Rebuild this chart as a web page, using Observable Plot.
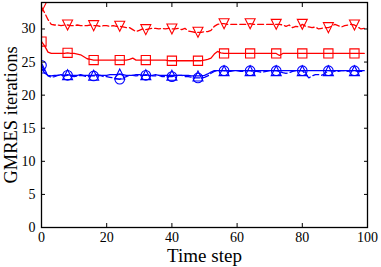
<!DOCTYPE html>
<html><head><meta charset="utf-8">
<script src="https://cdn.jsdelivr.net/npm/d3@7"></script>
<script src="https://cdn.jsdelivr.net/npm/@observablehq/plot@0.6"></script>
<style>html,body{margin:0;padding:0;background:#fff;} svg{display:block}</style>
</head><body><div id="chart"></div>
<script>
// ---- data ----
const timeSteps = d3.range(0, 100);
const redTriangle = [
  33.3, 32.4, 31.4, 30.7, 30.6, 30.6, 30.5, 30.6, 30.6, 30.5,
  30.5, 30.6, 30.5, 30.5, 30.5, 30.6, 30.5, 30.5, 30.4, 30.5,
  30.5, 30.4, 30.5, 30.4, 30.4, 30.3, 30.2, 30.2, 29.9, 29.6,
  29.8, 30.0, 29.9, 30.0, 30.1, 30.1, 30.0, 30.1, 30.0, 30.1,
  30.0, 30.0, 30.1, 29.9, 30.1, 29.7, 29.6, 29.5, 29.5, 29.5,
  29.6, 29.6, 29.8, 30.4, 30.7, 30.8, 30.8, 30.7, 30.7, 30.7,
  30.7, 30.7, 30.7, 30.7, 30.8, 30.7, 30.7, 30.7, 30.7, 30.7,
  30.7, 30.7, 30.7, 30.7, 30.6, 30.4, 30.6, 30.2, 30.4, 30.3,
  30.7, 30.4, 30.3, 30.2, 30.3, 30.0, 30.1, 30.2, 30.2, 30.4,
  30.7, 30.5, 30.3, 30.5, 30.6, 30.7, 30.6, 30.3, 30.0, 30.1
];
const redSquare = [
  28.1, 27.4, 26.5, 26.3, 26.3, 26.3, 26.3, 26.3, 26.4, 26.3,
  26.3, 26.2, 26.1, 25.8, 25.5, 25.4, 25.3, 25.3, 25.3, 25.3,
  25.3, 25.3, 25.3, 25.3, 25.3, 25.3, 25.3, 25.4, 25.6, 25.3,
  25.3, 25.3, 25.3, 25.3, 25.3, 25.3, 25.3, 25.3, 25.3, 25.2,
  25.2, 25.2, 25.2, 25.2, 25.2, 25.2, 25.2, 25.2, 25.2, 25.2,
  25.3, 25.4, 25.6, 26.2, 26.6, 26.4, 26.3, 26.3, 26.3, 26.3,
  26.3, 26.3, 26.3, 26.3, 26.3, 26.3, 26.3, 26.3, 26.3, 26.3,
  26.3, 26.3, 26.3, 26.0, 26.3, 26.3, 26.3, 26.3, 26.3, 26.3,
  26.3, 26.3, 26.3, 26.3, 26.3, 26.3, 26.3, 26.3, 26.3, 26.3,
  26.3, 26.3, 26.3, 26.3, 26.3, 26.3, 26.3, 26.3, 26.3, 26.3
];
const blueCircle = [
  24.5, 23.6, 22.9, 22.7, 22.8, 23.0, 23.0, 22.9, 23.0, 22.9,
  22.8, 22.9, 23.0, 22.9, 22.8, 22.9, 22.9, 22.9, 23.0, 22.8,
  22.8, 22.7, 22.6, 22.5, 22.4, 22.6, 22.8, 23.0, 23.0, 22.9,
  23.0, 23.0, 23.0, 23.0, 22.9, 22.9, 23.0, 22.8, 22.8, 22.8,
  22.8, 22.9, 23.0, 23.0, 22.8, 22.8, 22.7, 22.6, 22.6, 22.6,
  22.7, 22.9, 23.3, 23.6, 23.7, 23.7, 23.7, 23.6, 23.6, 23.7,
  23.7, 23.6, 23.6, 23.7, 23.7, 23.6, 23.6, 23.5, 23.5, 23.6,
  23.7, 23.7, 23.7, 23.6, 23.4, 23.3, 23.4, 23.6, 23.7, 23.7,
  23.7, 23.2, 22.6, 22.9, 23.1, 23.1, 23.0, 23.3, 23.7, 23.7,
  23.6, 23.6, 23.7, 23.7, 23.6, 23.7, 23.7, 23.6, 23.6, 23.6
];
const blueTriangle = [
  24.1, 23.3, 23.0, 22.9, 23.0, 23.0, 23.1, 23.0, 23.1, 23.0,
  23.0, 23.0, 23.1, 23.0, 23.0, 23.0, 23.0, 23.1, 23.0, 23.0,
  23.0, 23.1, 23.1, 23.1, 23.2, 23.1, 23.0, 23.0, 23.0, 23.1,
  23.1, 23.0, 23.1, 23.0, 23.0, 23.1, 23.0, 23.0, 23.0, 23.0,
  23.0, 23.0, 23.0, 23.0, 23.0, 23.0, 22.9, 22.9, 22.9, 22.9,
  23.0, 23.2, 23.5, 23.7, 23.7, 23.7, 23.7, 23.7, 23.7, 23.7,
  23.7, 23.7, 23.7, 23.7, 23.7, 23.7, 23.7, 23.7, 23.7, 23.7,
  23.7, 23.7, 23.7, 23.7, 23.7, 23.7, 23.7, 23.7, 23.7, 23.7,
  23.7, 23.7, 23.7, 23.7, 23.7, 23.7, 23.7, 23.7, 23.7, 23.7,
  23.7, 23.7, 23.7, 23.7, 23.7, 23.7, 23.7, 23.7, 23.7, 23.7
];
const xTicks = [0, 20, 40, 60, 80, 100];
const yTicks = [0, 5, 10, 15, 20, 25, 30];
const xLabel = "Time step";
const yLabel = "GMRES iterations";
const markEvery = 8;

// ---- marker shapes ----
const triDown = {draw(c, s) { const h = Math.sqrt(s / Math.PI); c.moveTo(0, h); c.lineTo(-h, -h); c.lineTo(h, -h); c.closePath(); }};
const triUp = {draw(c, s) { const h = Math.sqrt(s / Math.PI); c.moveTo(0, -h); c.lineTo(-h, h); c.lineTo(h, h); c.closePath(); }};
const square = {draw(c, s) { const h = Math.sqrt(s / Math.PI); c.rect(-h, -h, 2 * h, 2 * h); }};
const circle = {draw(c, s) { const h = Math.sqrt(s / Math.PI); c.moveTo(h, 0); c.arc(0, 0, h, 0, 2 * Math.PI); }};

const series = [
  {values: redTriangle, color: "#ff0000", dash: "6,3", symbol: triDown, r: 5},
  {values: redSquare, color: "#ff0000", dash: null, symbol: square, r: 4.6},
  {values: blueCircle, color: "#0000ff", dash: "6,3", symbol: circle, r: 4.8},
  {values: blueTriangle, color: "#0000ff", dash: null, symbol: triUp, r: 5}
];

const font = "'Liberation Serif', 'DejaVu Serif', serif";
const marks = [];
for (const s of series) {
  const data = timeSteps.map((t, i) => ({t, v: s.values[i]}));
  marks.push(Plot.line(data, {x: "t", y: "v", stroke: s.color, strokeWidth: 1.3, strokeDasharray: s.dash, clip: true}));
  marks.push(Plot.dot(data.filter((d, i) => i % markEvery === 0), {x: "t", y: "v", r: s.r, symbol: s.symbol, stroke: s.color, fill: "none", strokeWidth: 1.1, clip: true}));
}
marks.push(
  Plot.axisX(xTicks, {anchor: "bottom", tickSize: 0, tickPadding: 4.5, fontSize: 14, label: null}),
  Plot.axisY(yTicks, {anchor: "left", tickSize: 0, tickPadding: 6, fontSize: 14, label: null}),
  Plot.axisX(xTicks, {anchor: "bottom", tickSize: -4, tickFormat: () => "", label: null}),
  Plot.axisX(xTicks, {anchor: "top", tickSize: -4, tickFormat: () => "", label: null}),
  Plot.axisY(yTicks, {anchor: "left", tickSize: -4, tickFormat: () => "", label: null}),
  Plot.axisY(yTicks, {anchor: "right", tickSize: -4, tickFormat: () => "", label: null}),
  Plot.frame({stroke: "black", strokeWidth: 1.3}),
  Plot.text([xLabel], {frameAnchor: "bottom", dy: 28, fontSize: 19, textAnchor: "middle", lineAnchor: "middle", text: d => d}),
  Plot.text([yLabel], {frameAnchor: "left", dx: -30, rotate: -90, fontSize: 18.5, textAnchor: "middle", lineAnchor: "middle", text: d => d})
);

const chart = Plot.plot({
  width: 381,
  height: 267,
  marginLeft: 41,
  marginRight: 14,
  marginTop: 2,
  marginBottom: 40,
  x: {domain: [0, 100]},
  y: {domain: [0, 34]},
  style: {fontFamily: font, background: "#fff", color: "#000", overflow: "visible"},
  marks
});
document.getElementById("chart").appendChild(chart);
</script>
</body></html>
